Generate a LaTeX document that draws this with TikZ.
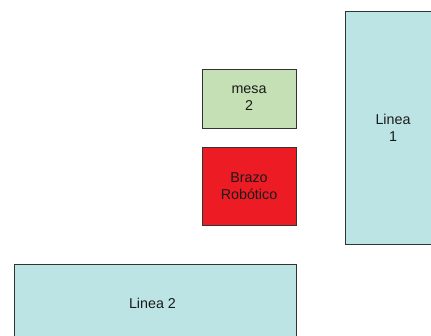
\documentclass[tikz,border=0pt]{standalone}
\usepackage{fontspec}
\setmainfont{Liberation Sans}
\usepackage{xcolor}
\usepackage{tikz}
\definecolor{linea}{HTML}{BDE4E4}
\definecolor{mesa}{HTML}{C5E0B4}
\definecolor{brazo}{HTML}{ED1C24}
\definecolor{edge}{HTML}{333333}
\definecolor{ink}{HTML}{1A1A1A}
\tikzset{
  box/.style={draw=edge, line width=0.9pt, inner sep=0pt, align=center,
    text=ink, font=\fontsize{14.3}{16.7}\selectfont},
  lineabox/.style={box, fill=linea},
  mesabox/.style={box, fill=mesa},
  brazobox/.style={box, fill=brazo}
}

\begin{document}
\begin{tikzpicture}[x=1pt, y=-1pt]
  \useasboundingbox (0,0) rectangle (431,336);
  \clip (0,0) rectangle (431,336);

  % production lines
  \node[lineabox, minimum width=96pt, minimum height=233pt] (linea1) at (393,127.5) {Linea\\1};
  \node[lineabox, minimum width=282pt, minimum height=78pt, text depth=0pt] (linea2) at (155,303) {\hspace*{-5pt}Linea 2};

  % work cell
  \node[mesabox, minimum width=94pt, minimum height=59pt] (mesa2) at (249,98.5) {mesa\\2};
  \node[brazobox, minimum width=94pt, minimum height=78pt] (brazo) at (249,186) {Brazo\\Robótico};
\end{tikzpicture}
\end{document}
